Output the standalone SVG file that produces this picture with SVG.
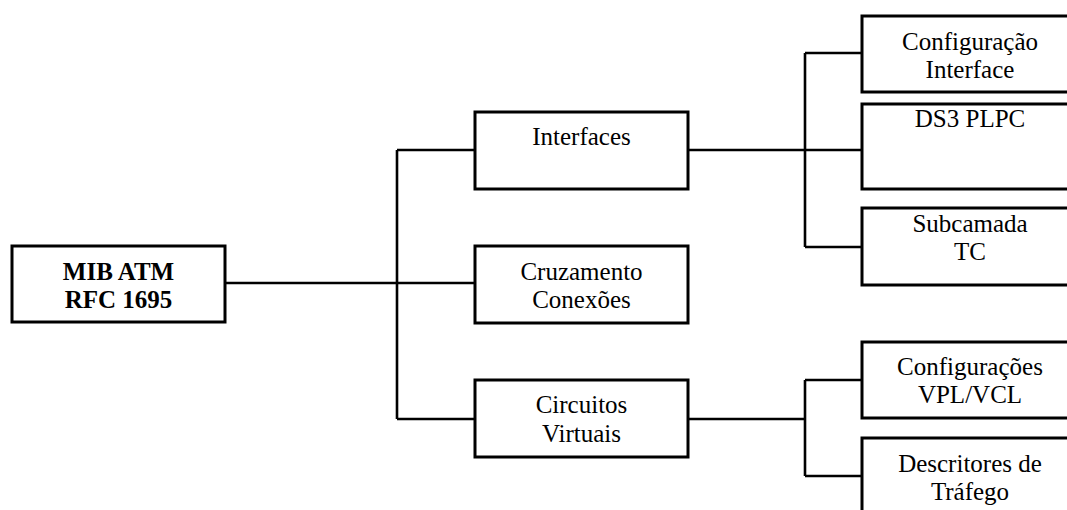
<svg xmlns="http://www.w3.org/2000/svg" width="1067" height="510" viewBox="0 0 1067 510">
<style>
.box{fill:#fff;stroke:#000;stroke-width:3}
.ln{fill:none;stroke:#000;stroke-width:2.6}
text{font-family:"Liberation Serif","Times New Roman",serif;font-size:25px;fill:#000;text-anchor:middle}
.b{font-weight:bold}
</style>
<rect width="1067" height="510" fill="#fff"/>
<g id="connectors">
<path class="ln" d="M225 283H397M397 150V419M397 150H475M397 283H475M397 419H475"/>
<path class="ln" d="M688 150H805M805 53V247M805 53H862M805 150H862M805 247H862"/>
<path class="ln" d="M688 419H805M805 380V476M805 380H862M805 476H862"/>
</g>
<g id="mib">
<rect class="box" x="12" y="246" width="213" height="76"/>
<text class="b" x="118.5" y="280">MIB ATM</text>
<text class="b" x="118.5" y="308">RFC 1695</text>
</g>
<g id="interfaces">
<rect class="box" x="475" y="112" width="213" height="77"/>
<text x="581.5" y="145">Interfaces</text>
</g>
<g id="cruzamento">
<rect class="box" x="475" y="246" width="213" height="77"/>
<text x="581.5" y="280">Cruzamento</text>
<text x="581.5" y="308">Conexões</text>
</g>
<g id="circuitos">
<rect class="box" x="475" y="380" width="213" height="77"/>
<text x="581.5" y="413">Circuitos</text>
<text x="581.5" y="442">Virtuais</text>
</g>
<g id="config-interface">
<rect class="box" x="862" y="16" width="220" height="76"/>
<text x="970" y="50">Configuração</text>
<text x="970" y="78">Interface</text>
</g>
<g id="ds3">
<rect class="box" x="862" y="104" width="220" height="85"/>
<text x="970" y="127">DS3 PLPC</text>
</g>
<g id="subcamada">
<rect class="box" x="862" y="208" width="220" height="77"/>
<text x="970" y="232">Subcamada</text>
<text x="970" y="260">TC</text>
</g>
<g id="config-vpl">
<rect class="box" x="862" y="342" width="220" height="76"/>
<text x="970" y="375">Configurações</text>
<text x="970" y="403">VPL/VCL</text>
</g>
<g id="descritores">
<rect class="box" x="862" y="438" width="220" height="90"/>
<text x="970" y="472">Descritores de</text>
<text x="970" y="500">Tráfego</text>
</g>
</svg>
